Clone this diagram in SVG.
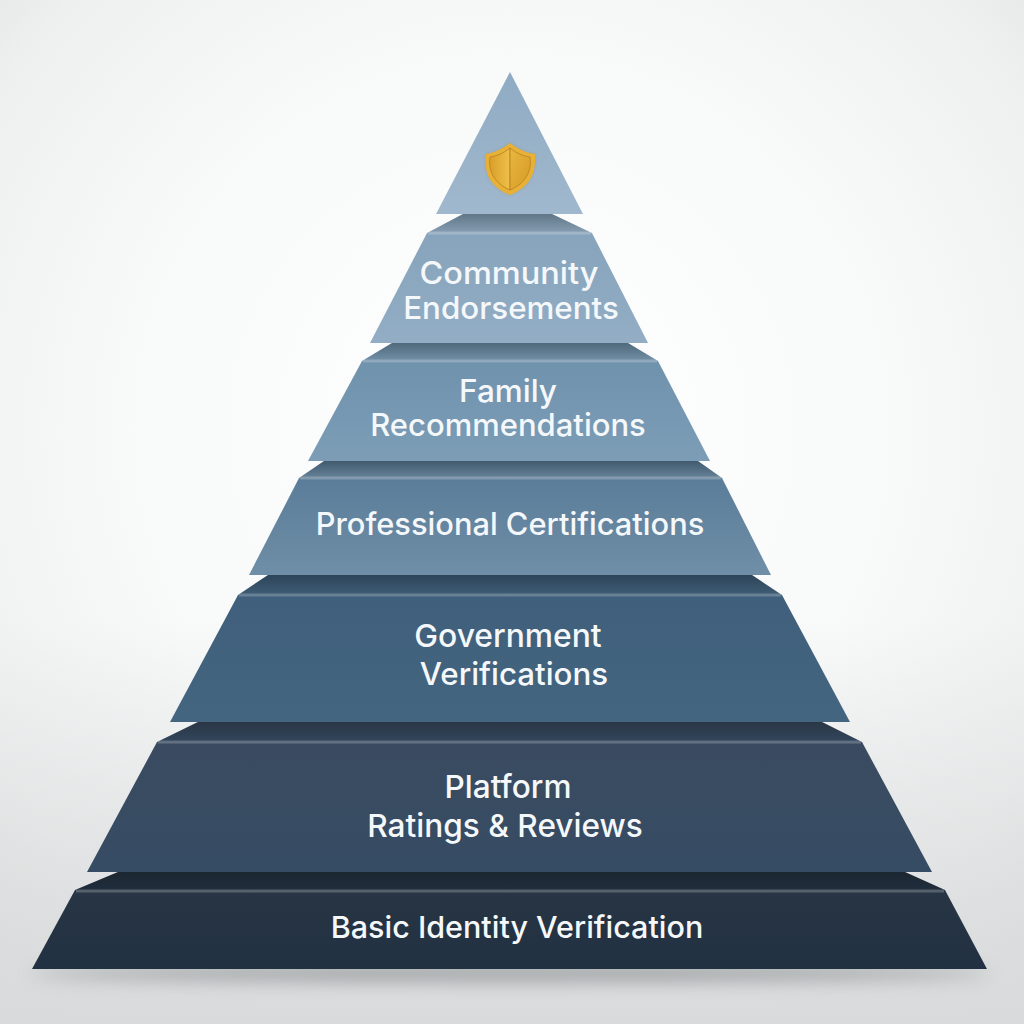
<svg xmlns="http://www.w3.org/2000/svg" width="1024" height="1024" viewBox="0 0 1024 1024">
<style>
.t{font-family:"Inter","Liberation Sans",sans-serif;font-weight:500;fill:#f5f8fa;text-anchor:middle}
.hl{stroke-width:3;fill:none;stroke:#ffffff;stroke-opacity:.22}
.bev{fill:url(#shade)}
</style>
<defs>
<radialGradient id="bg" cx="50%" cy="42%" r="75%"><stop offset="0" stop-color="#ffffff"/><stop offset="0.5" stop-color="#f8f9f9"/><stop offset="0.8" stop-color="#eeefef"/><stop offset="1" stop-color="#dddfdf"/></radialGradient>
<linearGradient id="floor" x1="0" y1="0" x2="0" y2="1"><stop offset="0" stop-color="#dcdedf" stop-opacity="0"/><stop offset="1" stop-color="#d8dadb" stop-opacity="1"/></linearGradient>
<linearGradient id="shade" x1="0" y1="0" x2="0" y2="1"><stop offset="0" stop-color="#000000" stop-opacity=".28"/><stop offset="1" stop-color="#000000" stop-opacity=".08"/></linearGradient>
<linearGradient id="g1" x1="0" y1="0" x2="0" y2="1"><stop offset="0" stop-color="#8fabc3"/><stop offset="1" stop-color="#a0b8cd"/></linearGradient>
<linearGradient id="g2" x1="0" y1="0" x2="0" y2="1"><stop offset="0" stop-color="#87a4bc"/><stop offset="1" stop-color="#92adc4"/></linearGradient>
<linearGradient id="g3" x1="0" y1="0" x2="0" y2="1"><stop offset="0" stop-color="#6f92ad"/><stop offset="1" stop-color="#7d9db6"/></linearGradient>
<linearGradient id="g4" x1="0" y1="0" x2="0" y2="1"><stop offset="0" stop-color="#5b7d99"/><stop offset="1" stop-color="#6f8ea7"/></linearGradient>
<linearGradient id="g5" x1="0" y1="0" x2="0" y2="1"><stop offset="0" stop-color="#3f5f7c"/><stop offset="1" stop-color="#44657f"/></linearGradient>
<linearGradient id="g6" x1="0" y1="0" x2="0" y2="1"><stop offset="0" stop-color="#3a4b60"/><stop offset="1" stop-color="#364c64"/></linearGradient>
<linearGradient id="g7" x1="0" y1="0" x2="0" y2="1"><stop offset="0" stop-color="#273544"/><stop offset="1" stop-color="#223142"/></linearGradient>
<linearGradient id="sL" x1="0" y1="0" x2="1" y2="0"><stop offset="0" stop-color="#d99f2a"/><stop offset="1" stop-color="#efc04a"/></linearGradient>
<linearGradient id="sR" x1="0" y1="0" x2="1" y2="1"><stop offset="0" stop-color="#e9b73f"/><stop offset="1" stop-color="#d49a26"/></linearGradient>
<filter id="blur" x="-20%" y="-300%" width="140%" height="700%"><feGaussianBlur stdDeviation="9"/></filter>
<filter id="soft" x="-30%" y="-30%" width="160%" height="160%"><feGaussianBlur stdDeviation="1.5"/></filter>
</defs>
<rect width="1024" height="1024" fill="url(#bg)"/>
<rect y="620" width="1024" height="404" fill="url(#floor)"/>
<ellipse cx="510" cy="973" rx="480" ry="8" fill="#6f7477" opacity="0.6" filter="url(#blur)"/>

<g id="tier-7">
<polygon points="118,872 905,872 945,890 75,890" fill="url(#g7)"/>
<polygon class="bev" points="118,872 905,872 945,890 75,890"/>
<polygon points="75,890 945,890 987,969 32,969" fill="url(#g7)"/>
<line class="hl" x1="76" y1="891" x2="944" y2="891"/>
<text class="t" x="517" y="938" font-size="30.5">Basic Identity Verification</text>
</g>
<g id="tier-6">
<polygon points="198,722 822,722 862,742 157,742" fill="url(#g6)"/>
<polygon class="bev" points="198,722 822,722 862,742 157,742"/>
<polygon points="157,742 862,742 932,872 87,872" fill="url(#g6)"/>
<line class="hl" x1="158" y1="742" x2="861" y2="742"/>
<text class="t" x="508" y="798" font-size="31.6">Platform</text>
<text class="t" x="505" y="837" font-size="31.6">Ratings &amp; Reviews</text>
</g>
<g id="tier-5">
<polygon points="268,575 752,575 782,595 238,595" fill="url(#g5)"/>
<polygon class="bev" points="268,575 752,575 782,595 238,595"/>
<polygon points="238,595 782,595 850,722 170,722" fill="url(#g5)"/>
<line class="hl" x1="239" y1="595" x2="781" y2="595"/>
<text class="t" x="508" y="647" font-size="31.8">Government</text>
<text class="t" x="514" y="685" font-size="31.3">Verifications</text>
</g>
<g id="tier-4">
<polygon points="324,461 698,461 722,478 299,478" fill="url(#g4)"/>
<polygon class="bev" points="324,461 698,461 722,478 299,478"/>
<polygon points="299,478 722,478 771,575 249,575" fill="url(#g4)"/>
<line class="hl" x1="300" y1="478" x2="721" y2="478"/>
<text class="t" x="510" y="535" font-size="30.8">Professional Certifications</text>
</g>
<g id="tier-3">
<polygon points="392,343 628,343 658,361 362,361" fill="url(#g3)"/>
<polygon class="bev" points="392,343 628,343 658,361 362,361"/>
<polygon points="362,361 658,361 710,461 308,461" fill="url(#g3)"/>
<line class="hl" x1="363" y1="361" x2="657" y2="361"/>
<text class="t" x="508" y="402" font-size="31.5">Family</text>
<text class="t" x="508" y="436" font-size="31">Recommendations</text>
</g>
<g id="tier-2">
<polygon points="463,214 552,214 592,233 427,233" fill="url(#g2)"/>
<polygon class="bev" points="463,214 552,214 592,233 427,233"/>
<polygon points="427,233 592,233 648,343 370,343" fill="url(#g2)"/>
<line class="hl" x1="428" y1="233" x2="591" y2="233"/>
<text class="t" x="509" y="284" font-size="31.3" textLength="179" lengthAdjust="spacingAndGlyphs">Community</text>
<text class="t" x="511" y="319" font-size="31.3">Endorsements</text>
</g>
<g id="tier-1">
<polygon points="510,72 583,214 436,214" fill="url(#g1)"/>
<g id="shield">
<path d="M510,143 C519,150 527,153 535,154 C536,171 532,186 510,195 C488,186 484,171 486,154 C493,153 501,150 510,143Z" fill="#a97f3a" opacity=".35" filter="url(#soft)"/>
<path d="M510,143 C519,150 527,153 535,154 C536,171 532,186 510,195 C488,186 484,171 486,154 C493,153 501,150 510,143Z" fill="#e8b136"/>
<path d="M510,148 L510,190 C493,183 488,169 490,157 C497,156 504,153 510,148Z" fill="url(#sL)" stroke="#b77f22" stroke-width=".8"/>
<path d="M510,148 C516,153 523,156 530,157 C532,169 527,183 510,190Z" fill="url(#sR)" stroke="#b77f22" stroke-width=".8"/>
</g>
</g>
</svg>
